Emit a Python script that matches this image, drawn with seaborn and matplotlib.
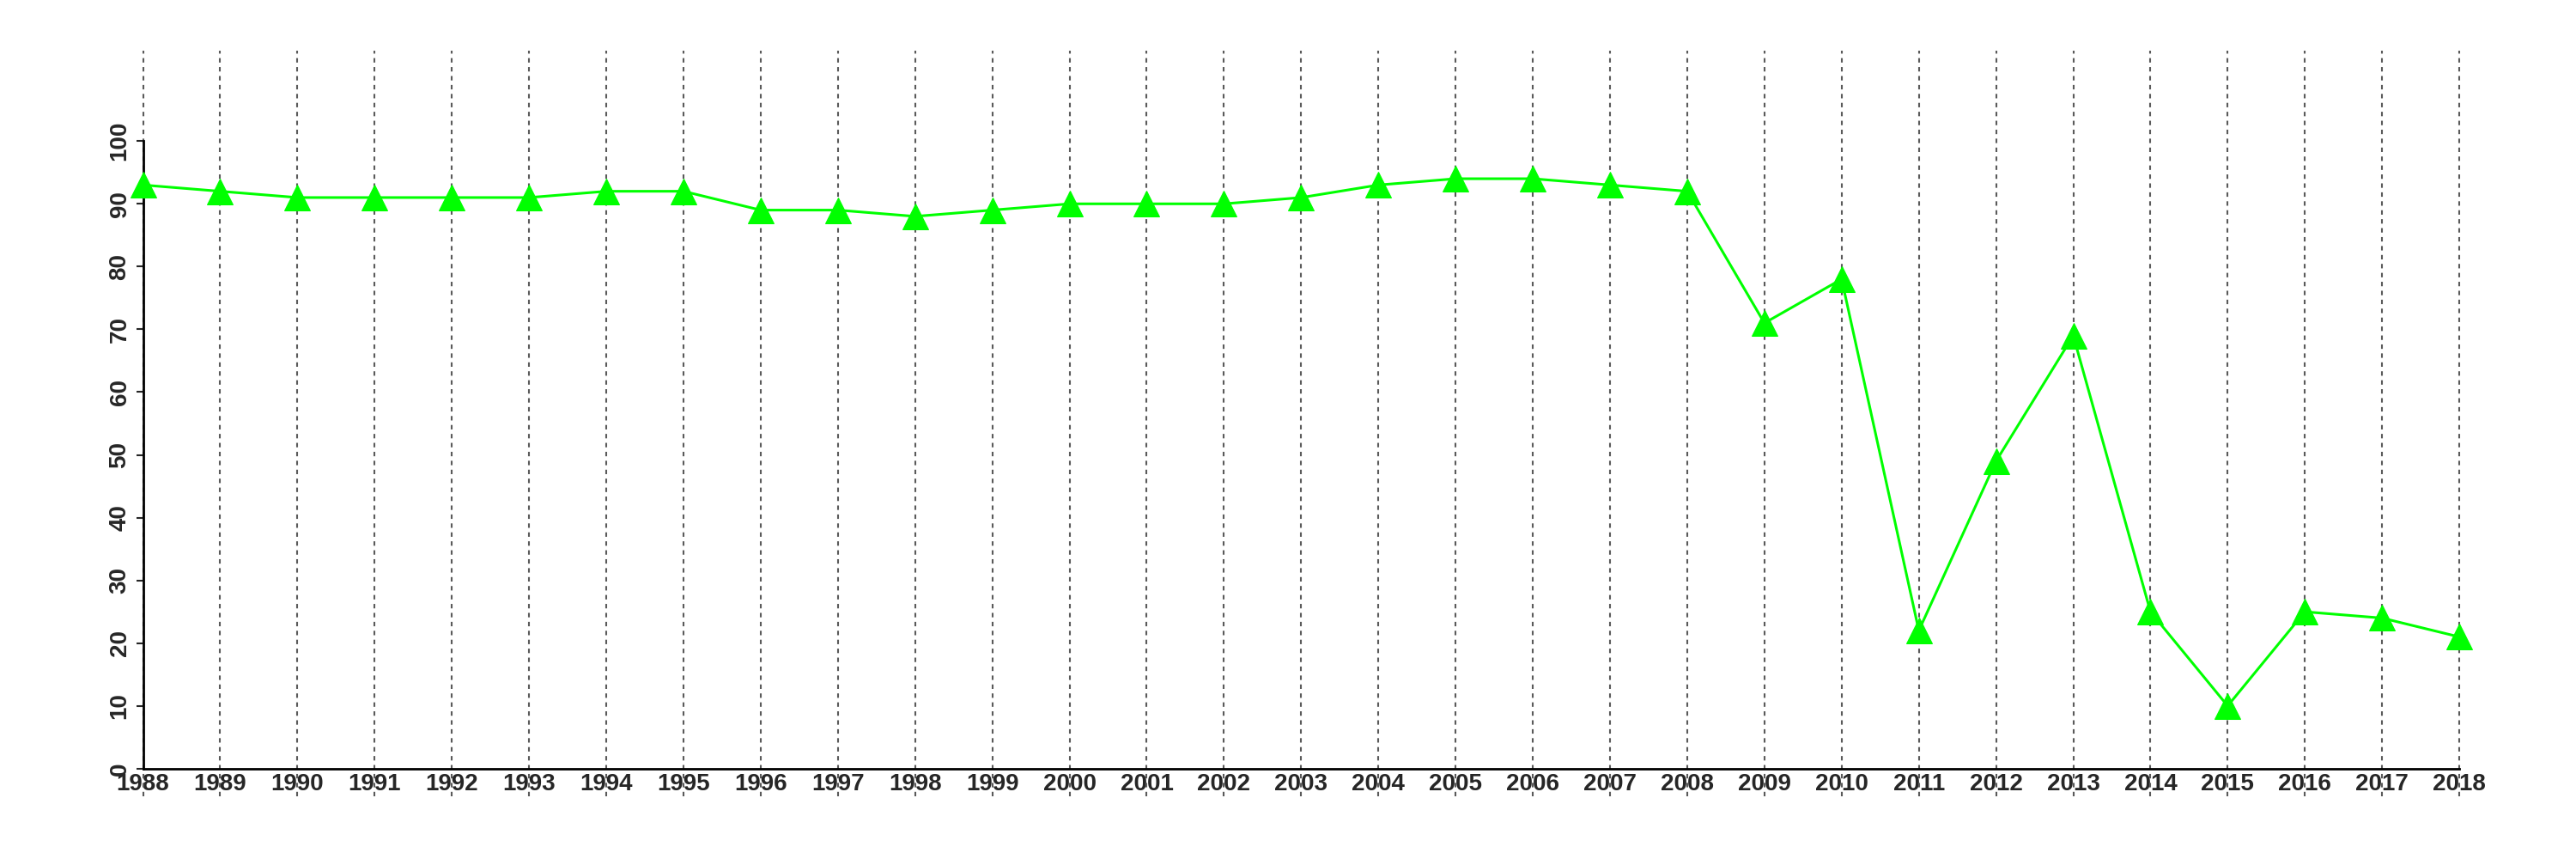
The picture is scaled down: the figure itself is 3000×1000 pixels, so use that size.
import matplotlib
matplotlib.use("Agg")
import matplotlib.pyplot as plt
import seaborn as sns
import pandas as pd

years = list(range(1988, 2019))
values = [93, 92, 91, 91, 91, 91, 92, 92, 89, 89, 88, 89, 90, 90, 90, 91,
          93, 94, 94, 93, 92, 71, 78, 22, 49, 69, 25, 10, 25, 24, 21]
y_ticks = [0, 10, 20, 30, 40, 50, 60, 70, 80, 90, 100]

df = pd.DataFrame({"year": years, "value": values})

sns.set_style("white")
plt.rcParams['font.family'] = ['Liberation Sans', 'DejaVu Sans']
plt.rcParams['font.weight'] = 'bold'

fig = plt.figure(figsize=(30, 10), dpi=100)
ax = fig.add_axes([0.0555, 0.073, 0.8992, 0.868])

# vertical dotted guides at each year
for yr in years:
    ax.axvline(yr, color="#5a5a5a", linestyle=(0, (2.5, 2.5)), linewidth=1.5,
               zorder=1, clip_on=False)

sns.lineplot(data=df, x="year", y="value", ax=ax, color="#00ff00",
             linewidth=2.2, marker="^", markersize=22, markeredgecolor="#00ff00",
             zorder=3, clip_on=False)

ax.set_xlim(1988, 2018)
ax.set_ylim(-4.4, 114.4)
ax.set_xlabel("")
ax.set_ylabel("")

ax.spines["top"].set_visible(False)
ax.spines["right"].set_visible(False)
ax.spines["left"].set_bounds(0, 100)
ax.spines["bottom"].set_position(("data", 0))
ax.spines["bottom"].set_bounds(1988, 2018)
for s in ("left", "bottom"):
    ax.spines[s].set_linewidth(2)
    ax.spines[s].set_color("black")

ax.set_xticks(years)
ax.set_xticklabels([str(y) for y in years], fontsize=20, fontweight="bold")
ax.set_yticks(y_ticks)
ax.set_yticklabels([str(v) for v in y_ticks], fontsize=20, fontweight="bold",
                   rotation=90, va="center")
ax.tick_params(axis="y", direction="out", length=6, width=1.5, pad=4, left=True)
ax.tick_params(axis="x", direction="out", length=0, pad=4, bottom=True)

fig.savefig("out.png", dpi=100)
